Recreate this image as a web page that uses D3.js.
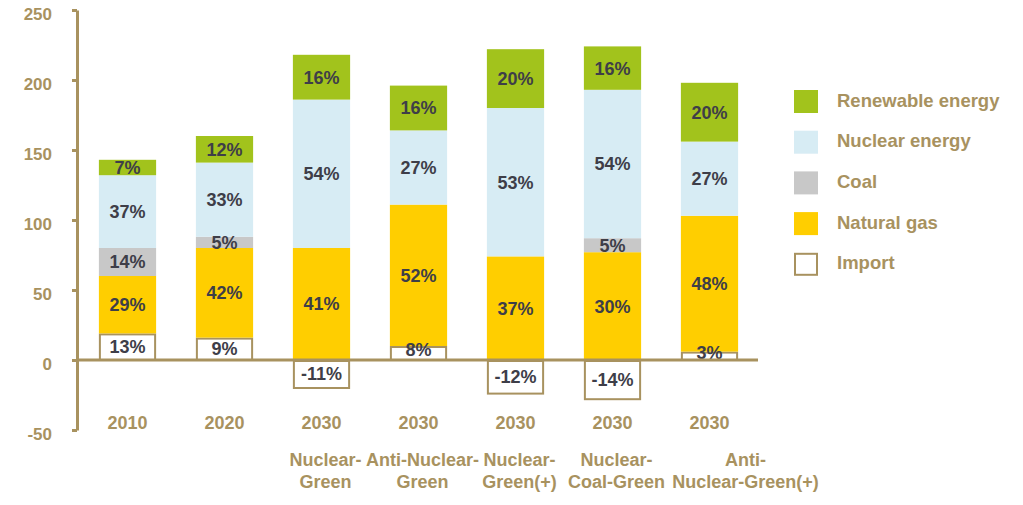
<!DOCTYPE html>
<html>
<head>
<meta charset="utf-8">
<script src="https://cdn.jsdelivr.net/npm/d3@7"></script>
<style>
  html, body { margin: 0; padding: 0; background: #ffffff; }
  svg { display: block; font-family: Arial, "Liberation Sans", sans-serif; }
</style>
</head>
<body>
<svg id="chart" width="1023" height="505"></svg>
<script>
// ---- data ----
const categories = ["2010", "2020", "2030", "2030", "2030", "2030", "2030"];
const scenarioLines = [[], [], ["Nuclear-", "Green"], ["Anti-Nuclear-", "Green"], ["Nuclear-", "Green(+)"], ["Nuclear-", "Coal-Green"], ["Anti-", "Nuclear-Green(+)"]];
const seriesNames = ["Import", "Natural gas", "Coal", "Nuclear energy", "Renewable energy"];
const importVals    = [19, 16, -20, 10, -24, -28, 6];
const gasVals       = [41, 64, 80, 101, 74, 77, 97];
const coalVals      = [20, 8, 0, 0, 0, 10, 0];
const nuclearVals   = [52, 53, 106, 53, 106, 106, 53];
const renewableVals = [11, 19, 32, 32, 42, 31, 42];
const importLabels    = ["13%", "9%", "-11%", "8%", "-12%", "-14%", "3%"];
const gasLabels       = ["29%", "42%", "41%", "52%", "37%", "30%", "48%"];
const coalLabels      = ["14%", "5%", "", "", "", "5%", ""];
const nuclearLabels   = ["37%", "33%", "54%", "27%", "53%", "54%", "27%"];
const renewableLabels = ["7%", "12%", "16%", "16%", "20%", "16%", "20%"];
const yTicks = [-50, 0, 50, 100, 150, 200, 250];
const legendOrder = ["Renewable energy", "Nuclear energy", "Coal", "Natural gas", "Import"];

// ---- styles ----
const tan = "#A8925F";
const colors = {
  "Import": "#ffffff",
  "Natural gas": "#FFCE00",
  "Coal": "#C8C8C8",
  "Nuclear energy": "#D7ECF4",
  "Renewable energy": "#A2C31C"
};
const valueColor = "#3E3E48";

const seriesVals = [importVals, gasVals, coalVals, nuclearVals, renewableVals];
const seriesLabels = [importLabels, gasLabels, coalLabels, nuclearLabels, renewableLabels];

const table = categories.map((c, i) => {
  const row = { idx: i };
  seriesNames.forEach((s, k) => { row[s] = seriesVals[k][i]; });
  return row;
});

const svg = d3.select("#chart");

const x = d3.scaleBand()
  .domain(d3.range(categories.length))
  .range([79, 758])
  .paddingInner(0.41)
  .paddingOuter(0.205);

const y = d3.scaleLinear().domain([-50, 250]).range([430, 10]);

const stack = d3.stack().keys(seriesNames).offset(d3.stackOffsetDiverging);
const layers = stack(table);

// bars
const gLayers = svg.append("g").selectAll("g")
  .data(layers)
  .join("g");

gLayers.selectAll("rect")
  .data(d => d.map(p => ({ key: d.key, p })))
  .join("rect")
  .filter(d => d.p[1] !== d.p[0])
  .attr("x", d => d.key === "Import" ? x(d.p.data.idx) + 1 : x(d.p.data.idx))
  .attr("width", d => d.key === "Import" ? x.bandwidth() - 2 : x.bandwidth())
  .attr("y", d => y(Math.max(d.p[0], d.p[1])) + (d.key === "Import" ? 1 : 0))
  .attr("height", d => Math.abs(y(d.p[0]) - y(d.p[1])) - (d.key === "Import" ? 1 : 0))
  .attr("fill", d => colors[d.key])
  .attr("stroke", d => d.key === "Import" ? tan : "none")
  .attr("stroke-width", 2);

// value labels
layers.forEach((layer, k) => {
  svg.append("g").selectAll("text")
    .data(layer.filter(p => p[1] !== p[0] && seriesLabels[k][p.data.idx] !== ""))
    .join("text")
    .attr("x", p => x(p.data.idx) + x.bandwidth() / 2)
    .attr("y", p => {
      const mid = (y(p[0]) + y(p[1])) / 2;
      const h = Math.abs(y(p[0]) - y(p[1]));
      return h < 22 && layer.key === "Import" ? mid - 3 : mid;
    })
    .attr("dy", "0.36em")
    .attr("text-anchor", "middle")
    .attr("font-size", 18)
    .attr("font-weight", "bold")
    .attr("fill", valueColor)
    .text(p => seriesLabels[k][p.data.idx]);
});

// y axis
const yAxis = d3.axisLeft(y).tickValues(yTicks).tickFormat(d => String(d))
  .tickSize(5).tickSizeOuter(0).tickPadding(20);
const gy = svg.append("g").attr("transform", "translate(77,0)").call(yAxis);
gy.select(".domain").attr("stroke", tan).attr("stroke-width", 3);
gy.selectAll(".tick line").attr("stroke", tan).attr("stroke-width", 3);
gy.selectAll(".tick text")
  .attr("fill", tan)
  .attr("font-size", 17)
  .attr("font-weight", "bold")
  .attr("font-family", "Arial, 'Liberation Sans', sans-serif")
  .attr("dy", "0.55em");

// zero line
svg.append("line")
  .attr("x1", 77).attr("x2", 758)
  .attr("y1", y(0)).attr("y2", y(0))
  .attr("stroke", tan).attr("stroke-width", 3);

// category labels
const gx = svg.append("g");
categories.forEach((c, i) => {
  const cx = x(i) + x.bandwidth() / 2;
  gx.append("text")
    .attr("x", cx).attr("y", 429)
    .attr("text-anchor", "middle")
    .attr("font-size", 18).attr("font-weight", "bold")
    .attr("fill", tan)
    .text(c);
  const lines = scenarioLines[i];
  const shift = (i === categories.length - 1) ? 36 : 4;
  lines.forEach((ln, j) => {
    gx.append("text")
      .attr("x", cx + (lines.length ? shift : 0)).attr("y", 466 + j * 22)
      .attr("text-anchor", "middle")
      .attr("font-size", 18).attr("font-weight", "bold")
      .attr("fill", tan)
      .text(ln);
  });
});

// legend
const legend = svg.append("g").attr("transform", "translate(794,90)");
legendOrder.forEach((name, i) => {
  const g = legend.append("g").attr("transform", `translate(0,${i * 40.7})`);
  g.append("rect")
    .attr("x", name === "Import" ? 1 : 0)
    .attr("y", name === "Import" ? 1 : 0)
    .attr("width", name === "Import" ? 22 : 24)
    .attr("height", name === "Import" ? 21 : 23)
    .attr("fill", colors[name])
    .attr("stroke", name === "Import" ? tan : "none")
    .attr("stroke-width", 2);
  g.append("text")
    .attr("x", 43).attr("y", 10)
    .attr("dy", "0.36em")
    .attr("font-size", 18.5).attr("font-weight", "bold")
    .attr("fill", tan)
    .text(name);
});
</script>
</body>
</html>
